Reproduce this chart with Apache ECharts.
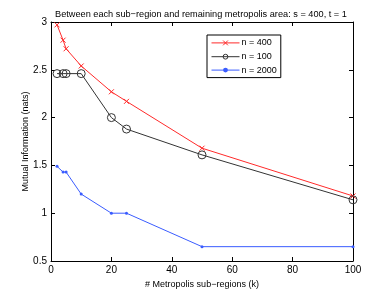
<!DOCTYPE html>
<html><head><meta charset="utf-8">
<script src="https://cdn.jsdelivr.net/npm/echarts@6/dist/echarts.min.js"></script>
<style>html,body{margin:0;padding:0;background:#fff}#c{width:390px;height:294px}</style>
</head><body><div id="c"></div>
<script>
const kValues = [2, 4, 5, 10, 20, 25, 50, 100];
const n400 = [2.97, 2.81, 2.72, 2.54, 2.27, 2.17, 1.68, 1.18];
const n100 = [2.46, 2.46, 2.46, 2.46, 2.00, 1.88, 1.61, 1.14];
const n2000 = [1.49, 1.43, 1.43, 1.20, 1.00, 1.00, 0.65, 0.65];
const seriesNames = ['n = 400', 'n = 100', 'n = 2000'];
const xTicks = [0, 20, 40, 60, 80, 100];
const yTicks = [0.5, 1, 1.5, 2, 2.5, 3];

const pair = arr => kValues.map((k, i) => [k, arr[i]]);
const font = 'Liberation Sans, Arial, sans-serif';
const chart = echarts.init(document.getElementById('c'), null, {renderer: 'canvas'});
const axisCommon = {
  axisLine: {show: true, onZero: false, lineStyle: {color: '#000', width: 1}},
  axisTick: {show: true, inside: true, length: 4, lineStyle: {color: '#000'}},
  splitLine: {show: false}
};
chart.setOption({
  animation: false,
  title: {
    text: 'Between each sub\u2212region and remaining metropolis area: s = 400, t = 1',
    left: 50, top: 5,
    textStyle: {fontFamily: font, fontSize: 9.2, fontWeight: 'normal', color: '#000'}
  },
  legend: {
    orient: 'vertical', left: 207, top: 35,
    backgroundColor: '#fff', borderColor: '#000', borderWidth: 1,
    padding: [3, 4, 3, 4], itemGap: 4, itemWidth: 28, itemHeight: 6,
    textStyle: {fontFamily: font, fontSize: 9, color: '#000', padding: [0, 0, 0, -3]},
    lineStyle: {width: 1},
    itemStyle: {borderWidth: 1},
    data: seriesNames
  },
  grid: {left: 51, right: 37, top: 22, bottom: 33},
  xAxis: [
    Object.assign({type: 'value', min: xTicks[0], max: xTicks[xTicks.length-1], interval: 20,
      name: '# Metropolis sub\u2212regions (k)', nameLocation: 'middle', nameGap: 13,
      nameTextStyle: {fontFamily: font, fontSize: 9, color: '#000'},
      axisLabel: {fontFamily: font, fontSize: 10, color: '#000', margin: 4}}, axisCommon),
    Object.assign({type: 'value', position: 'top', min: 0, max: 100, interval: 20,
      axisLabel: {show: false}}, axisCommon)
  ],
  yAxis: [
    Object.assign({type: 'value', min: yTicks[0], max: yTicks[yTicks.length-1], interval: 0.5,
      name: 'Mutual Information (nats)', nameLocation: 'middle', nameGap: 21, nameMoveOverlap: false,
      nameTextStyle: {fontFamily: font, fontSize: 9, color: '#000'},
      axisLabel: {fontFamily: font, fontSize: 10, color: '#000', margin: 4}}, axisCommon),
    Object.assign({type: 'value', position: 'right', min: 0.5, max: 3, interval: 0.5,
      axisLabel: {show: false}}, axisCommon)
  ],
  series: [
    {name: seriesNames[0], type: 'line', data: pair(n400),
      symbol: 'path://M0,0L10,10M10,0L0,10', symbolSize: 5,
      lineStyle: {color: '#ff2a2a', width: 1},
      itemStyle: {color: 'none', borderColor: '#ff2a2a', borderWidth: 1}},
    {name: seriesNames[1], type: 'line', data: pair(n100),
      symbol: 'circle', symbolSize: 8,
      lineStyle: {color: '#333', width: 1},
      itemStyle: {color: 'none', borderColor: '#333', borderWidth: 1}},
    {name: seriesNames[2], type: 'line', data: pair(n2000),
      symbol: 'circle', symbolSize: 3,
      lineStyle: {color: '#3a5cff', width: 1},
      itemStyle: {color: '#3a5cff'}}
  ]
});
</script></body></html>
